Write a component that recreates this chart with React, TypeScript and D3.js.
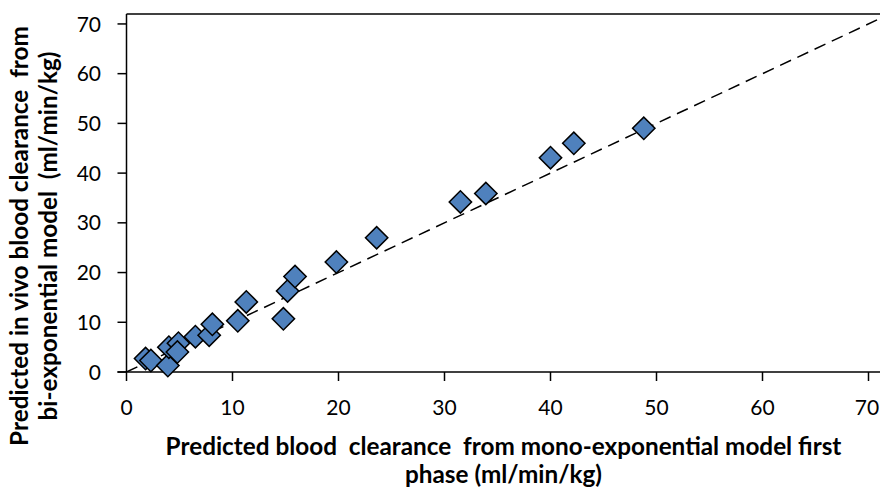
import React from "react";
import * as d3 from "d3";

// Predicted blood clearance (ml/min/kg): mono-exponential first phase (x) vs bi-exponential (y)
const monoExpClearance = [1.8, 2.3, 3.9, 4.0, 4.9, 4.8, 6.5, 7.8, 8.1, 10.5, 11.3, 14.8, 15.2, 15.9, 19.8, 23.6, 31.5, 33.9, 40.0, 42.2, 48.8];
const biExpClearance = [2.7, 2.3, 1.3, 5.0, 5.8, 4.0, 7.1, 7.4, 9.6, 10.3, 14.1, 10.7, 16.3, 19.2, 22.1, 27.0, 34.2, 35.9, 43.1, 46.0, 49.0];
const xTicks = [0, 10, 20, 30, 40, 50, 60, 70];
const yTicks = [0, 10, 20, 30, 40, 50, 60, 70];
const axisMax = 72;
const identityLine = [0, axisMax];

const xTitleLines = ["Predicted blood  clearance  from mono-exponential model first", "phase (ml/min/kg)"];
const yTitleLines = ["Predicted in vivo blood clearance  from", "bi-exponential model  (ml/min/kg)"];

const W = 880;
const H = 490;
const left = 126.5;
const bottom = 372;
const top = 14;
const pxPerUnit = 10.6;

export default function App() {
  const x = d3.scaleLinear().domain([0, axisMax]).range([left, left + axisMax * pxPerUnit]);
  const y = d3.scaleLinear().domain([0, axisMax]).range([bottom, top]);
  const diamond = d3.symbol(d3.symbolSquare, 250)()!;
  const points = monoExpClearance.map((v, i) => ({ x: v, y: biExpClearance[i] }));
  const lineGen = d3.line<number>().x((d) => x(d)).y((d) => y(d));

  const font = "Lato, 'Open Sans', sans-serif";
  return (
    <svg width={W} height={H} style={{ position: "absolute", left: 0, top: 0, background: "#fff" }}>
      <defs>
        <clipPath id="plotClip">
          <rect x={left} y={top} width={W - left} height={bottom - top} />
        </clipPath>
      </defs>
      {/* plot frame top edge */}
      <line x1={left} x2={W} y1={top} y2={top} stroke="#000" strokeWidth={1.3} />
      {/* y = x reference line */}
      <path
        d={lineGen(identityLine)!}
        stroke="#000"
        strokeWidth={1.5}
        strokeDasharray="12,7"
        fill="none"
        clipPath="url(#plotClip)"
      />
      {/* axes */}
      <line x1={left} x2={left} y1={top} y2={bottom} stroke="#000" strokeWidth={1.5} />
      <line x1={left - 9} x2={W} y1={bottom} y2={bottom} stroke="#000" strokeWidth={1.5} />
      {yTicks.map((t) => (
        <g key={"y" + t}>
          <line x1={left - 9} x2={left} y1={y(t)} y2={y(t)} stroke="#000" strokeWidth={1.5} />
          <text x={101} y={y(t)} dy="0.36em" textAnchor="end" fontFamily={font} fontSize={21} fill="#000">
            {t}
          </text>
        </g>
      ))}
      {xTicks.map((t) => (
        <g key={"x" + t}>
          <line x1={x(t)} x2={x(t)} y1={bottom} y2={bottom + 9} stroke="#000" strokeWidth={1.5} />
          <text x={Math.min(x(t), 867)} y={415} textAnchor="middle" fontFamily={font} fontSize={21} fill="#000">
            {t}
          </text>
        </g>
      ))}
      {/* markers */}
      {points.map((p, i) => (
        <path
          key={i}
          d={diamond}
          transform={`translate(${x(p.x)},${y(p.y)}) rotate(45)`}
          fill="#4F81BD"
          stroke="#000"
          strokeWidth={1.5}
        />
      ))}
      {/* axis titles */}
      {xTitleLines.map((s, i) => (
        <text
          key={"xt" + i}
          x={503.5}
          y={455 + i * 28}
          textAnchor="middle"
          fontFamily={font}
          fontWeight="bold"
          fontSize={24.3}
          fill="#000"
          style={{ whiteSpace: "pre" }}
        >
          {s}
        </text>
      ))}
      {yTitleLines.map((s, i) => (
        <text
          key={"yt" + i}
          transform={`translate(${28 + i * 29},236) rotate(-90)`}
          textAnchor="middle"
          fontFamily={font}
          fontWeight="bold"
          fontSize={24.3}
          fill="#000"
          style={{ whiteSpace: "pre" }}
        >
          {s}
        </text>
      ))}
    </svg>
  );
}
